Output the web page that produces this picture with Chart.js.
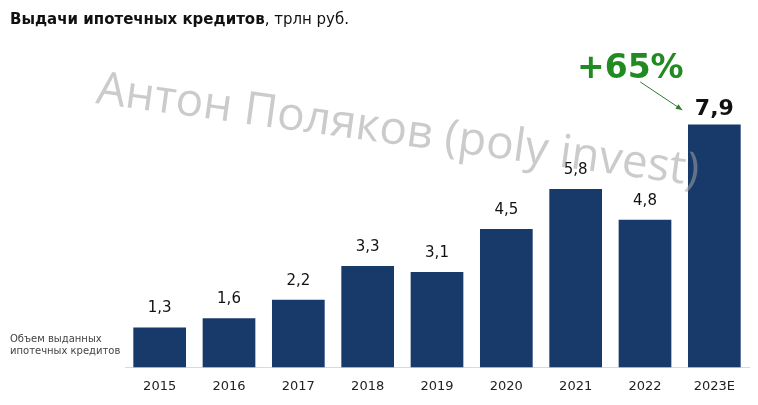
<!DOCTYPE html>
<html lang="ru">
<head>
  <meta charset="UTF-8">
  <title>Выдачи ипотечных кредитов</title>
  <script src="https://cdn.jsdelivr.net/npm/chart.js@4.4.0/dist/chart.umd.min.js"></script>
  <style>
    html, body { margin: 0; padding: 0; background: #fff; }
    #wrap { width: 758px; height: 405px; position: relative; }
  </style>
</head>
<body>
  <div id="wrap"><canvas id="myChart"></canvas></div>
  <script>
    const years = ['2015', '2016', '2017', '2018', '2019', '2020', '2021', '2022', '2023E'];
    const volumes = [1.3, 1.6, 2.2, 3.3, 3.1, 4.5, 5.8, 4.8, 7.9];
    const growthLabel = '+65%';
    const watermark = 'Антон Поляков (poly invest)';

    const barColor = '#173a6b';
    const font = '"DejaVu Sans", Verdana, sans-serif';

    // title, side label, value labels, watermark and the +65% callout
    const extras = {
      id: 'extras',
      afterDatasetsDraw(chart) {
        const ctx = chart.ctx;
        const meta = chart.getDatasetMeta(0);
        ctx.save();

        // title
        ctx.textBaseline = 'alphabetic';
        ctx.textAlign = 'left';
        ctx.fillStyle = '#111';
        ctx.font = 'bold 15px ' + font;
        const t1 = 'Выдачи ипотечных кредитов';
        ctx.fillText(t1, 10, 24);
        const w1 = ctx.measureText(t1).width;
        ctx.font = '15px ' + font;
        ctx.fillText(', трлн руб.', 10 + w1, 24);

        // side label
        ctx.fillStyle = '#444';
        ctx.font = '10px ' + font;
        ctx.fillText('Объем выданных', 10, 342);
        ctx.fillText('ипотечных кредитов', 10, 354);

        // values above bars
        ctx.textAlign = 'center';
        meta.data.forEach((bar, i) => {
          const last = i === volumes.length - 1;
          ctx.fillStyle = '#111';
          ctx.font = (last ? 'bold 22px ' : '15px ') + font;
          ctx.fillText(String(volumes[i]).replace('.', ','), bar.x, bar.y - (last ? 10 : 15));
        });

        // growth callout
        const lastBar = meta.data[meta.data.length - 1];
        ctx.fillStyle = '#218a21';
        ctx.font = 'bold 33px ' + font;
        ctx.fillText(growthLabel, lastBar.x - 84, 78);
        const x0 = lastBar.x - 74, y0 = 82, x1 = lastBar.x - 32, y1 = 110;
        ctx.strokeStyle = '#2f7a2f';
        ctx.fillStyle = '#2f7a2f';
        ctx.lineWidth = 1;
        ctx.beginPath();
        ctx.moveTo(x0, y0);
        ctx.lineTo(x1, y1);
        ctx.stroke();
        const ang = Math.atan2(y1 - y0, x1 - x0);
        ctx.beginPath();
        ctx.moveTo(x1, y1);
        ctx.lineTo(x1 - 7 * Math.cos(ang - 0.4), y1 - 7 * Math.sin(ang - 0.4));
        ctx.lineTo(x1 - 7 * Math.cos(ang + 0.4), y1 - 7 * Math.sin(ang + 0.4));
        ctx.closePath();
        ctx.fill();

        // watermark
        ctx.translate(95, 103);
        ctx.rotate(7.8 * Math.PI / 180);
        ctx.textAlign = 'left';
        ctx.font = '46px "Open Sans", sans-serif';
        ctx.fillStyle = 'rgba(160,160,160,0.55)';
        ctx.fillText(watermark, 0, 0);

        ctx.restore();
      }
    };

    new Chart(document.getElementById('myChart'), {
      type: 'bar',
      data: {
        labels: years,
        datasets: [{
          data: volumes,
          backgroundColor: barColor,
          barPercentage: 0.76,
          categoryPercentage: 1
        }]
      },
      options: {
        responsive: true,
        maintainAspectRatio: false,
        animation: false,
        layout: { padding: { left: 125, right: 9, top: 60, bottom: 8 } },
        plugins: { legend: { display: false }, tooltip: { enabled: false } },
        scales: {
          y: { display: false, min: 0, max: 10 },
          x: {
            grid: { display: false },
            border: { display: true, color: '#d9d9d9' },
            ticks: { color: '#222', font: { family: font, size: 13 }, padding: 3 }
          }
        }
      },
      plugins: [extras]
    });
  </script>
</body>
</html>
